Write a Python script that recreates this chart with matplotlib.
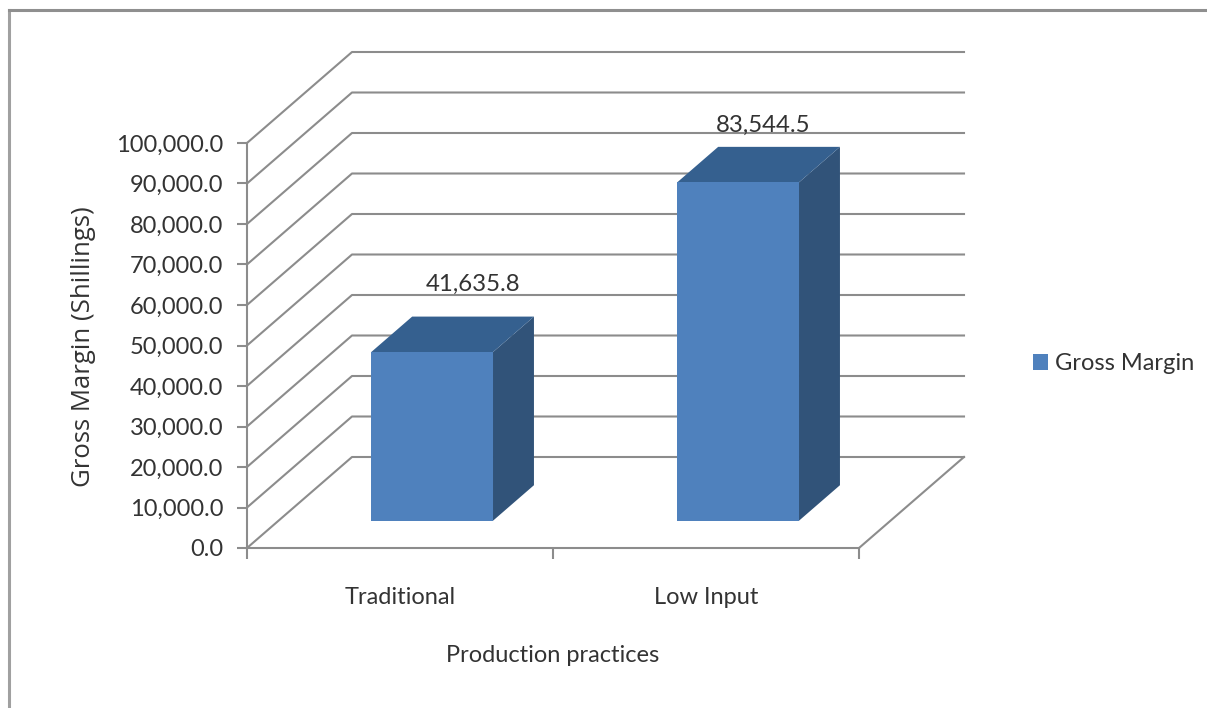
import matplotlib
matplotlib.use("Agg")
import matplotlib.pyplot as plt
from matplotlib.patches import Polygon, Rectangle

plt.rcParams["font.family"] = ["Lato", "DejaVu Sans"]

# === Data ===
categories = ["Traditional", "Low Input"]
gross_margin = [41635.8, 83544.5]
value_labels = ["41,635.8", "83,544.5"]
y_ticks = [0, 10000, 20000, 30000, 40000, 50000, 60000, 70000, 80000, 90000, 100000]
series_name = "Gross Margin"

W, H = 1207, 708
GRID = "#8c8c8c"
TEXT = "#333333"
FRONT = "#4f81bd"
TOP = "#35608f"
SIDE = "#315379"

fig = plt.figure(figsize=(W / 100, H / 100), dpi=100)
fig.patch.set_facecolor("white")

# outer chart border (left and top only, the image is cropped)
fig.add_artist(plt.Line2D([8.5 / W, 8.5 / W], [0, 1 - 10 / H], color="#a0a0a0", lw=2.2))
fig.add_artist(plt.Line2D([8.5 / W, 1], [1 - 10 / H, 1 - 10 / H], color="#8f8f8f", lw=2.2))

# front plane of the fake 3d box
ax = fig.add_axes([247 / W, 1 - 548 / H, 612 / W, 405 / H])
ax.set_xlim(0, 2)
ax.set_ylim(0, 100000)
ax.patch.set_alpha(0)
for s in ["top", "right"]:
    ax.spines[s].set_visible(False)
for s in ["left", "bottom"]:
    ax.spines[s].set_color(GRID)
    ax.spines[s].set_linewidth(1.5)

# depth in data units
DX = 105 / 306
DY = 91 / 405 * 100000


def proj(x, y, d):
    return x + DX * d, y + DY * d


# walls and floor
for v in y_ticks:
    x0, y0 = proj(0, v, 1)
    x1, y1 = proj(2, v, 1)
    ax.plot([0, x0, x1], [v, y0, y1], color=GRID, lw=1.5, clip_on=False, zorder=1)
x0, y0 = proj(2, 0, 1)
ax.plot([2, x0], [0, y0], color=GRID, lw=1.5, clip_on=False, zorder=1)

# bars: front, top and side faces
bar_w = 0.398
d0, d1 = 0.30, 0.69
# the value labels do not sit at the same spot on both bars, shift in px
label_shift = [(1, 32), (-15, 22)]
for i, v in enumerate(gross_margin):
    left = i + 0.502 - bar_w / 2
    right = left + bar_w
    front = [proj(left, 0, d0), proj(right, 0, d0), proj(right, v, d0), proj(left, v, d0)]
    top = [proj(left, v, d0), proj(right, v, d0), proj(right, v, d1), proj(left, v, d1)]
    side = [proj(right, 0, d0), proj(right, 0, d1), proj(right, v, d1), proj(right, v, d0)]
    ax.add_patch(Polygon(side, facecolor=SIDE, edgecolor="none", clip_on=False, zorder=3))
    ax.add_patch(Polygon(top, facecolor=TOP, edgecolor="none", clip_on=False, zorder=3))
    ax.add_patch(Polygon(front, facecolor=FRONT, edgecolor="none", clip_on=False, zorder=4))
    cx, cy = proj(i + 0.5, v, d1)
    sx, sy = label_shift[i]
    ax.annotate(value_labels[i], (cx, cy), xytext=(sx * 0.72, sy * 0.72), textcoords="offset points",
                ha="center", va="center", fontsize=17.3, color=TEXT, zorder=5,
                annotation_clip=False)

# ticks
ax.set_yticks(y_ticks)
ax.set_yticklabels([f"{v:,.1f}" for v in y_ticks], fontsize=17, color=TEXT)
ax.tick_params(axis="y", length=7, width=1.5, color=GRID, pad=10)
ax.set_xticks([0, 1, 2])
ax.set_xticklabels(["", "", ""])
ax.tick_params(axis="x", length=8, width=1.5, color=GRID)
for i, c in enumerate(categories):
    ax.annotate(c, (i + 0.5, 0), xytext=(0, -36), textcoords="offset points",
                ha="center", va="center", fontsize=17, color=TEXT, annotation_clip=False)

# axis titles
fig.text(553 / W, 1 - 656 / H, "Production practices", ha="center", va="center",
         fontsize=17, color=TEXT)
fig.text(84 / W, 1 - 347 / H, "Gross Margin (Shillings)", ha="center", va="center",
         rotation=90, fontsize=18.5, color=TEXT, family="Open Sans")

# legend
fig.add_artist(Rectangle((1033 / W, 1 - 370 / H), 15 / W, 16 / H, transform=fig.transFigure,
                         facecolor=FRONT, edgecolor="none"))
fig.text(1055 / W, 1 - 363 / H, series_name, ha="left", va="center", fontsize=17, color=TEXT)

plt.savefig("out.png", dpi=100)
